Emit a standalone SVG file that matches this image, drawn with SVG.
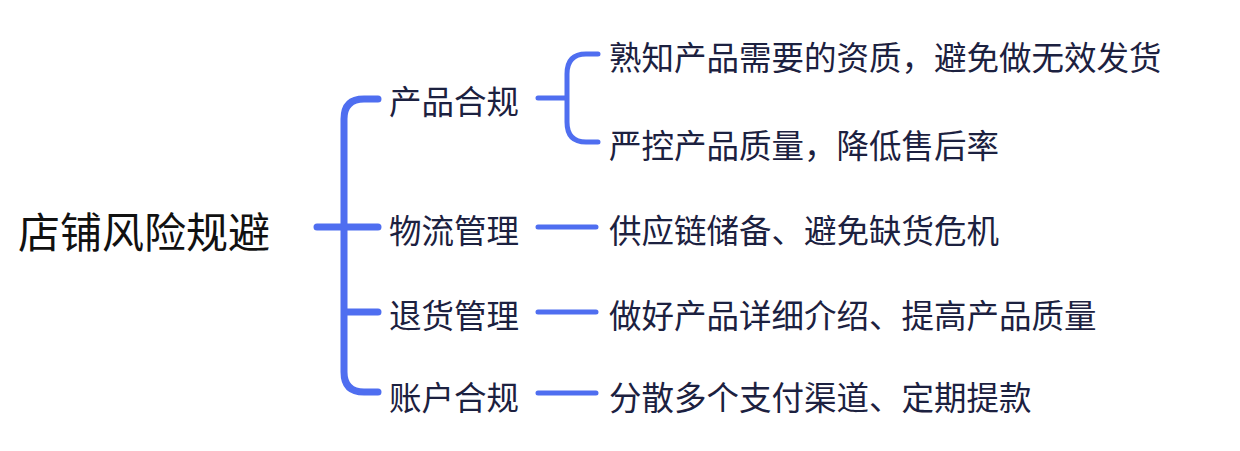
<svg xmlns="http://www.w3.org/2000/svg" width="1240" height="451" viewBox="0 0 1240 451">
<style>
text{font-family:"Noto Sans CJK SC",sans-serif;fill:#1c2140;dominant-baseline:central}
.r{font-size:42px;fill:#111}
.n{font-size:32.5px}
.c path{fill:none;stroke:#4f6ef0;stroke-linecap:round}
.m{stroke-width:7}
.s{stroke-width:5}
</style>
<rect width="1240" height="451" fill="#fff"/>
<g class="c" id="connectors">
<path class="m" d="M317 227H378M378 99H364Q344 99 344 119V372Q344 392 364 392H378M344 312Q344 312 378 312"/>
<path class="s" d="M538 98H566M598 54H586Q567 54 567 74V122Q567 142 586 142H598"/>
<path class="s" d="M538 227H596M538 312H596M538 393H596"/>
</g>
<g id="root"><text class="r" x="18" y="229">店铺风险规避</text></g>
<g id="n1"><text class="n" x="389" y="99">产品合规</text></g>
<g id="n2"><text class="n" x="389" y="228">物流管理</text></g>
<g id="n3"><text class="n" x="389" y="313">退货管理</text></g>
<g id="n4"><text class="n" x="389" y="395">账户合规</text></g>
<g id="l1"><text class="n" x="609" y="55">熟知产品需要的资质，避免做无效发货</text></g>
<g id="l2"><text class="n" x="609" y="143">严控产品质量，降低售后率</text></g>
<g id="l3"><text class="n" x="609" y="228">供应链储备、避免缺货危机</text></g>
<g id="l4"><text class="n" x="609" y="313">做好产品详细介绍、提高产品质量</text></g>
<g id="l5"><text class="n" x="609" y="395">分散多个支付渠道、定期提款</text></g>
</svg>
